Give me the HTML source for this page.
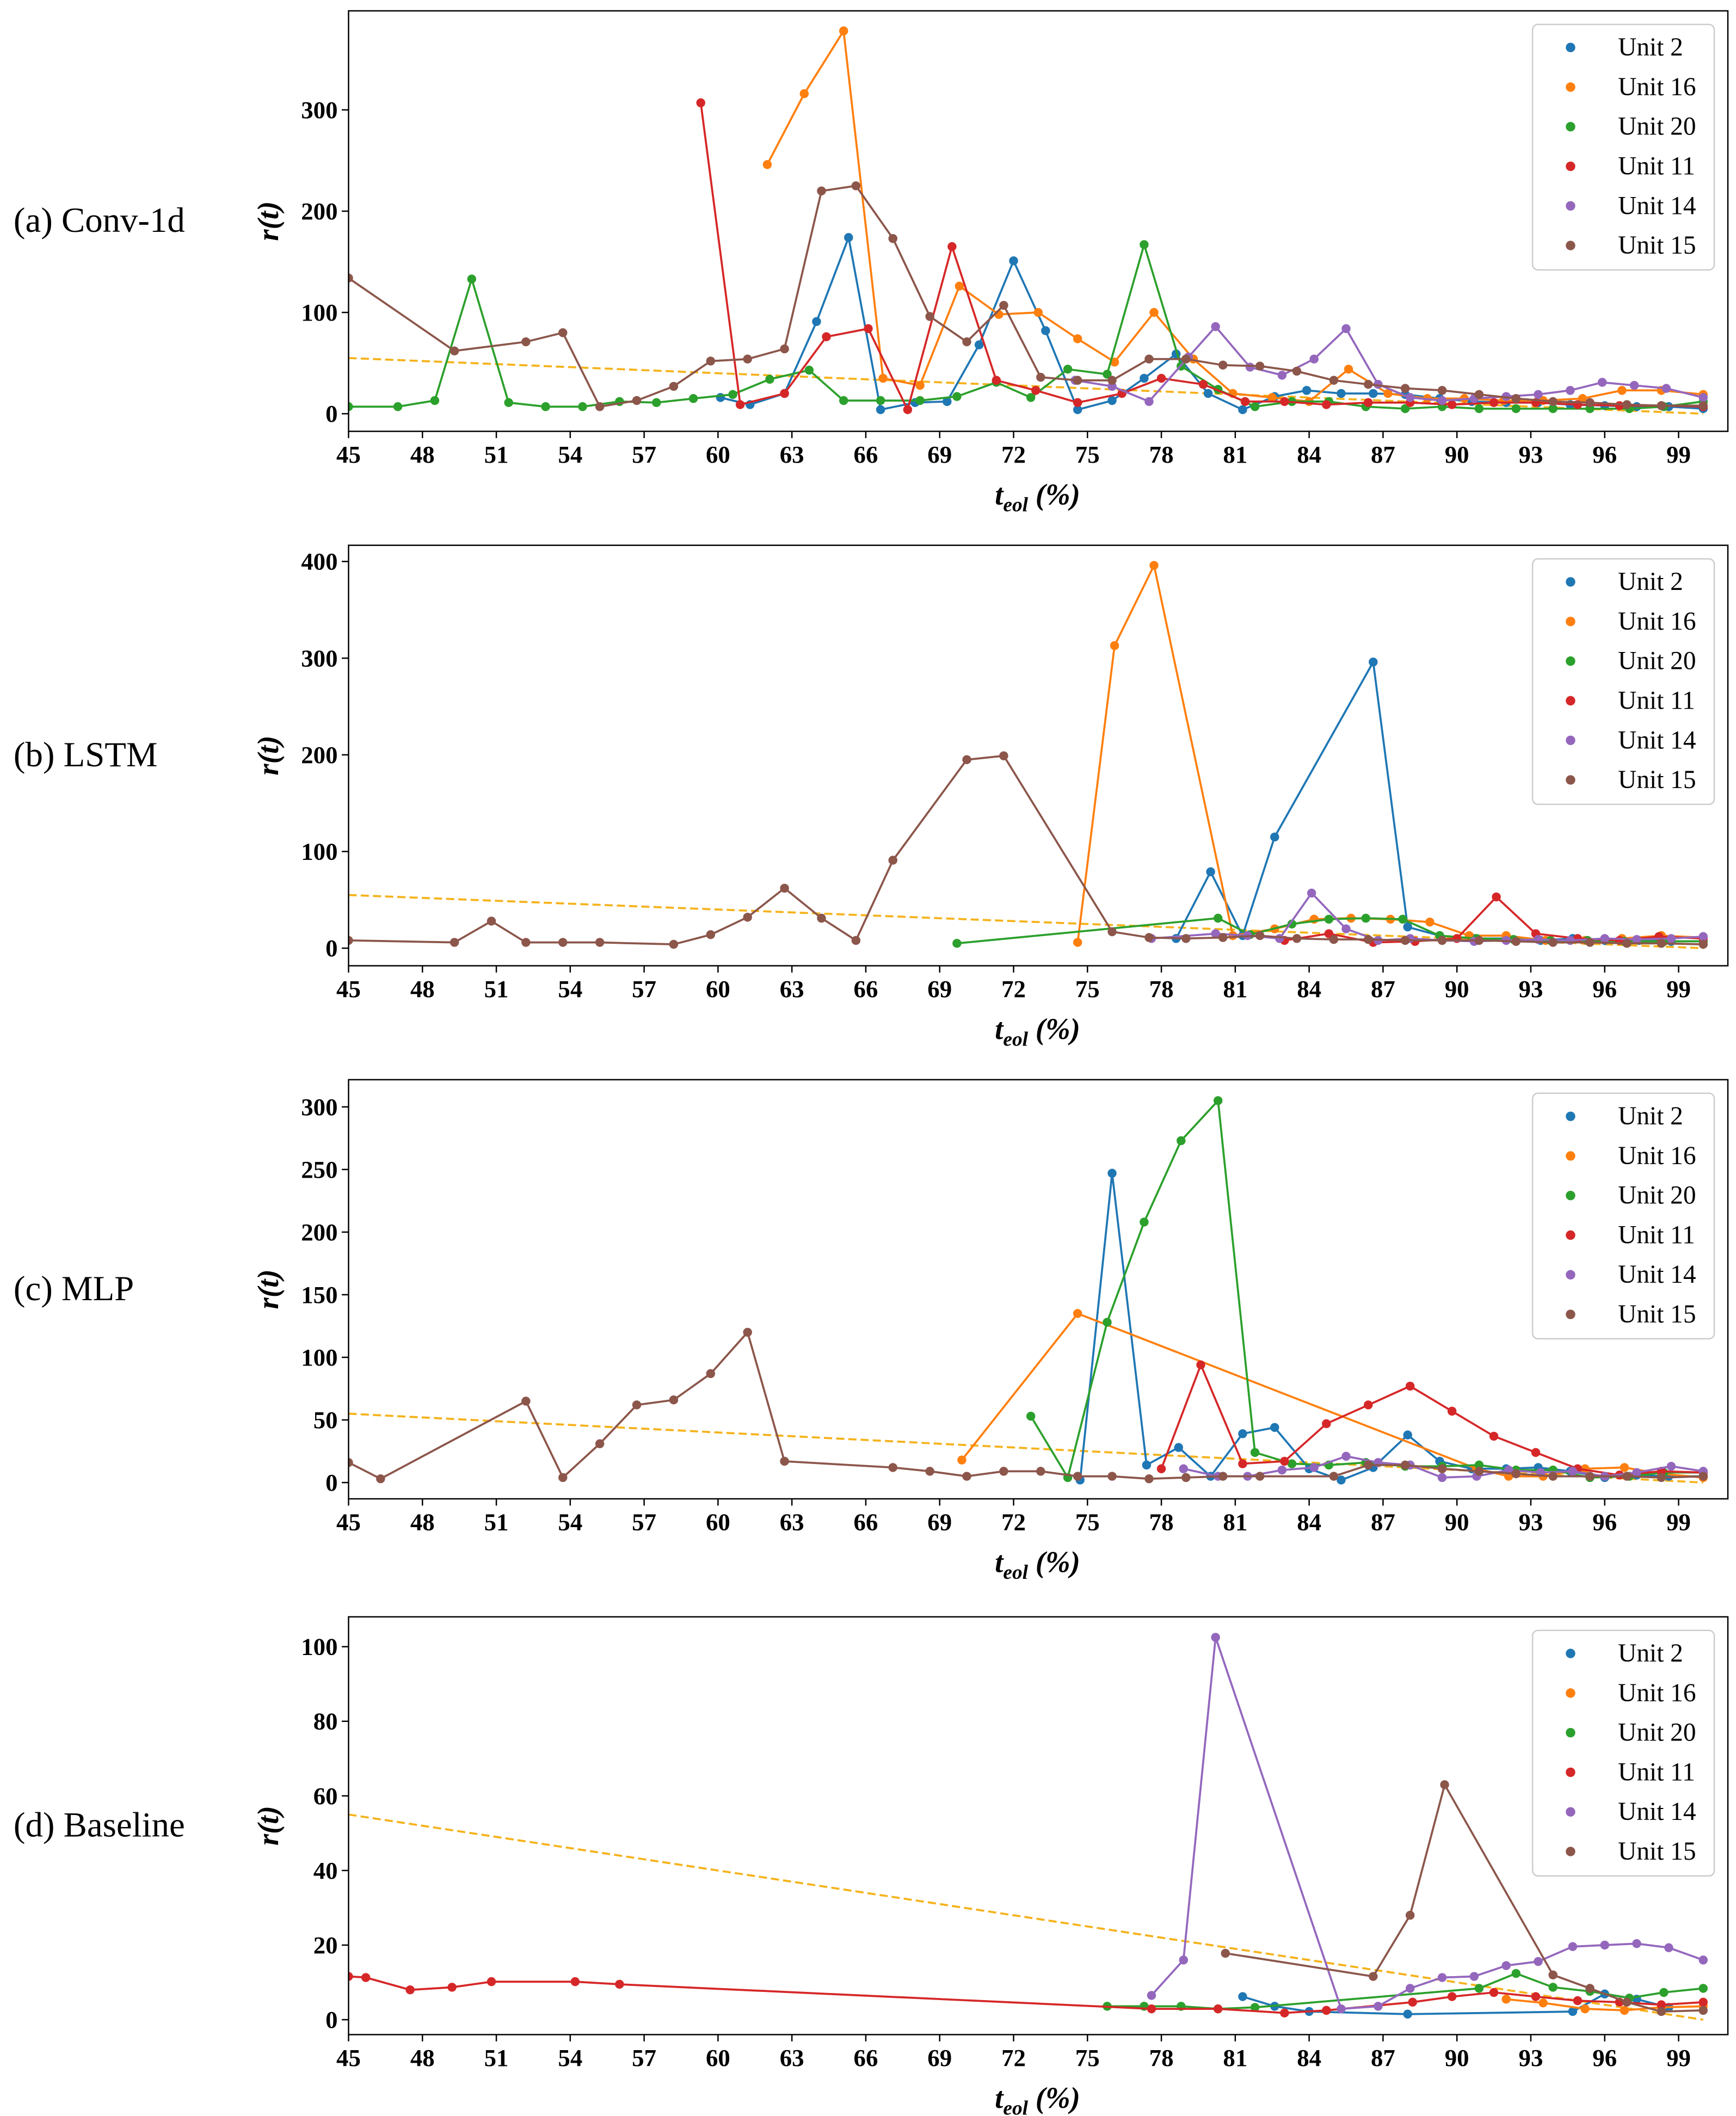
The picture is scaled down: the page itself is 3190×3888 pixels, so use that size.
<!DOCTYPE html>
<html><head><meta charset="utf-8">
<style>
html,body{margin:0;padding:0;background:#fff;}
svg{display:block;}
</style></head>
<body>
<svg id="fig" xmlns="http://www.w3.org/2000/svg" width="3190" height="3888" viewBox="0 0 1280 1560" preserveAspectRatio="none" font-family="'Liberation Serif', serif"></svg>
<script>
// ---------- data ----------
const xTicks = [45,48,51,54,57,60,63,66,69,72,75,78,81,84,87,90,93,96,99];
const unitNames = ["Unit 2","Unit 16","Unit 20","Unit 11","Unit 14","Unit 15"];
const unitColors = ["#1f77b4","#ff7f0e","#2ca02c","#d62728","#9467bd","#8c564b"];

// (a) Conv-1d
const convU2X = [60.1,61.3,62.7,64,65.3,66.6,68,69.3,70.6,72,73.3,74.6,76,77.3,78.6,79.9,81.3,82.6,83.9,85.3,86.6,87.9,89.3,90.6,92,93.3,94.6,96,97.3,98.6,100];
const convU2Y = [16,9,20,91,174,4,11,12,68,151,82,4,13,35,59,20,4,17,23,20,20,19,15,12,11,11,9,8,7,7,5];
const convU16X = [62,63.5,65.1,66.7,68.2,69.8,71.4,73,74.6,76.1,77.7,79.3,80.9,82.5,84,85.6,87.2,88.8,90.3,91.9,93.5,95.1,96.7,98.3,100];
const convU16Y = [246,316,378,35,28,126,98,100,74,51,100,54,20,16,12,44,20,15,15,13,13,15,23,23,19];
const convU20X = [45,47,48.5,50,51.5,53,54.5,56,57.5,59,60.6,62.1,63.7,65.1,66.6,68.2,69.7,71.3,72.7,74.2,75.8,77.3,78.8,80.3,81.8,83.3,84.8,86.3,87.9,89.4,90.9,92.4,93.9,95.4,97,98.4,100];
const convU20Y = [7,7,13,133,11,7,7,12,11,15,19,34,43,13,13,13,17,31,16,44,39,167,47,24,7,12,12,7,5,7,5,5,5,5,5,7,12];
const convU11X = [59.3,60.9,62.7,64.4,66.1,67.7,69.5,71.3,72.9,74.6,76.4,78,79.7,81.4,83,84.7,86.4,88.1,89.8,91.5,93.2,94.9,96.6,98.3,100];
const convU11Y = [307,9,20,76,84,4,165,33,23,11,20,35,29,12,12,9,11,11,9,11,11,9,8,8,7];
const convU14X = [74.5,76,77.5,79.1,80.2,81.6,82.9,84.2,85.5,86.8,88.1,89.4,90.7,92,93.3,94.6,95.9,97.2,98.5,100];
const convU14Y = [33,27,12,56,86,46,38,54,84,29,16,13,15,17,19,23,31,28,25,16];
const convU15X = [45,49.3,52.2,53.7,55.2,56.7,58.2,59.7,61.2,62.7,64.2,65.6,67.1,68.6,70.1,71.6,73.1,74.6,76,77.5,79,80.5,82,83.5,85,86.4,87.9,89.4,90.9,92.4,93.9,95.4,96.9,98.3,100];
const convU15Y = [134,62,71,80,7,13,27,52,54,64,220,225,173,96,71,107,36,33,33,54,54,48,47,42,33,29,25,23,19,15,12,11,9,8,8];

// (b) LSTM
const lstmU2X = [78.6,80,81.3,82.6,86.6,88,89.3,90.7,92,93.4,94.7,96,97.4,98.7,100];
const lstmU2Y = [10,79,13,115,296,22,13,10,10,8,10,8,8,7,7];
const lstmU16X = [74.6,76.1,77.7,80.9,82.6,84.2,85.7,87.3,88.9,90.5,92,93.6,95.2,96.7,98.3,100];
const lstmU16Y = [6,313,396,13,20,30,31,30,27,13,13,8,8,10,13,11];
const lstmU20X = [69.7,80.3,81.6,83.3,84.8,86.3,87.8,89.3,90.8,92.3,93.8,95.3,96.8,98.4,100];
const lstmU20Y = [5,31,14,25,30,31,30,13,10,9,8,8,7,7,7];
const lstmU11X = [83,84.8,86.6,88.3,90,91.6,93.2,94.9,96.6,98.2,100];
const lstmU11Y = [8,15,6,7,10,53,15,10,8,12,10];
const lstmU14X = [77.6,80.2,81.5,82.8,84.1,85.5,86.8,88.1,89.4,90.7,92,93.3,94.6,96,97.3,98.7,100];
const lstmU14Y = [10,15,13,10,57,20,8,10,8,7,8,9,8,10,9,10,12];
const lstmU15X = [45,49.3,50.8,52.2,53.7,55.2,58.2,59.7,61.2,62.7,64.2,65.6,67.1,70.1,71.6,76,77.5,79,80.5,82,83.5,85,86.4,87.9,89.4,90.9,92.4,93.9,95.4,96.9,98.3,100];
const lstmU15Y = [8,6,28,6,6,6,4,14,32,62,31,8,91,195,199,17,11,10,11,13,10,9,9,8,8,8,7,6,6,5,5,4];

// (c) MLP
const mlpU2X = [74.7,76,77.4,78.7,80,81.3,82.6,84,85.3,86.6,88,89.3,90.6,92,93.3,94.6,96,97.3,98.6,100];
const mlpU2Y = [2,247,14,28,5,39,44,11,2,12,38,17,11,11,12,9,4,6,5,5];
const mlpU16X = [69.9,74.6,90.8,92.1,93.5,95.2,96.8,98.3,100];
const mlpU16Y = [18,135,11,5,5,11,12,7,4];
const mlpU20X = [72.7,74.2,75.8,77.3,78.8,80.3,81.8,83.3,84.8,86.3,87.9,89.4,90.9,92.4,93.9,95.4,97,98.4,100];
const mlpU20Y = [53,4,128,208,273,305,24,15,14,16,13,13,14,10,10,4,5,8,8];
const mlpU11X = [78,79.6,81.3,83,84.7,86.4,88.1,89.8,91.5,93.2,94.9,96.6,98.3,100];
const mlpU11Y = [11,94,15,17,47,62,77,57,37,24,11,6,9,8];
const mlpU14X = [78.9,80.3,81.5,82.9,84.2,85.5,86.8,88.1,89.4,90.8,92.1,93.4,94.7,96,97.3,98.7,100];
const mlpU14Y = [11,5,5,10,12,21,16,14,4,5,10,8,9,5,8,13,9];
const mlpU15X = [45,46.3,52.2,53.7,55.2,56.7,58.2,59.7,61.2,62.7,67.1,68.6,70.1,71.6,73.1,74.6,76,77.5,79,80.5,82,85,86.4,87.9,89.4,90.9,92.4,93.9,95.4,96.9,98.3,100];
const mlpU15Y = [16,3,65,4,31,62,66,87,120,17,12,9,5,9,9,5,5,3,4,5,5,5,14,14,11,9,7,5,5,5,4,5];

// (d) Baseline
const baseU2X = [81.3,82.6,84,88,94.7,96,97.3,98.6];
const baseU2Y = [6.2,3.6,2.2,1.5,2.2,6.9,5.5,3.3];
const baseU16X = [92,93.5,95.2,96.8,98.3,100];
const baseU16Y = [5.5,4.5,2.9,2.5,3.3,3.6];
const baseU20X = [75.8,77.3,78.8,80.3,81.8,90.9,92.4,93.9,95.4,97,98.4,100];
const baseU20Y = [3.6,3.6,3.6,2.9,3.3,8.4,12.4,8.7,7.6,5.8,7.3,8.4];
const baseU11X = [45,45.7,47.5,49.2,50.8,54.2,56,77.6,80.3,83,84.7,88.2,89.8,91.5,93.2,94.9,96.6,98.3,100];
const baseU11Y = [11.6,11.3,8,8.7,10.2,10.2,9.5,2.9,2.9,1.8,2.5,4.7,6.2,7.3,6.2,5.1,4.7,4,4.7];
const baseU14X = [77.6,78.9,80.2,85.3,86.8,88.1,89.4,90.7,92,93.3,94.7,96,97.3,98.6,100];
const baseU14Y = [6.5,16,102.5,2.9,3.6,8.4,11.3,11.6,14.5,15.6,19.6,20,20.4,19.3,16];
const baseU15X = [80.6,86.6,88.1,89.5,93.9,95.4,96.9,98.3,100];
const baseU15Y = [17.8,11.6,28,63,12,8.4,4.7,2.2,2.5];

const trendX = [45,100];
const trendY = [55,0];

const panelLabels = ["(a) Conv-1d","(b) LSTM","(c) MLP","(d) Baseline"];
const panelYTicks = [[0,100,200,300],[0,100,200,300,400],[0,50,100,150,200,250,300],[0,20,40,60,80,100]];
const panelYRange = [[-17.4,397.8],[-18.2,416.8],[-13,321.7],[-4,108]];
const panelBox = [[8,318],[402,712],[796,1105],[1192,1500]];
const panelSeries = [
  [[convU2X,convU2Y],[convU16X,convU16Y],[convU20X,convU20Y],[convU11X,convU11Y],[convU14X,convU14Y],[convU15X,convU15Y]],
  [[lstmU2X,lstmU2Y],[lstmU16X,lstmU16Y],[lstmU20X,lstmU20Y],[lstmU11X,lstmU11Y],[lstmU14X,lstmU14Y],[lstmU15X,lstmU15Y]],
  [[mlpU2X,mlpU2Y],[mlpU16X,mlpU16Y],[mlpU20X,mlpU20Y],[mlpU11X,mlpU11Y],[mlpU14X,mlpU14Y],[mlpU15X,mlpU15Y]],
  [[baseU2X,baseU2Y],[baseU16X,baseU16Y],[baseU20X,baseU20Y],[baseU11X,baseU11Y],[baseU14X,baseU14Y],[baseU15X,baseU15Y]]
];
const panelKeys = ["conv-1d","lstm","mlp","baseline"];

// ---------- drawing ----------
const NS = "http://www.w3.org/2000/svg";
const svg = document.getElementById("fig");
const L = 257, R = 1274, XMIN = 45, XMAX = 101;
function mk(tag, attrs, parent){
  const e = document.createElementNS(NS, tag);
  for (const k in attrs) e.setAttribute(k, attrs[k]);
  (parent||svg).appendChild(e);
  return e;
}
const xs = v => L + (v - XMIN) / (XMAX - XMIN) * (R - L);

panelBox.forEach((box, p) => {
  const [T, B] = box;
  const [ymin, ymax] = panelYRange[p];
  const ys = v => B - (v - ymin) / (ymax - ymin) * (B - T);
  const g = mk("g", {});
  
  

  const lab = mk("text", {x: 10, y: (T+B)/2 + 8, "font-size": 26, fill: "#000"}, g);
  lab.textContent = panelLabels[p];
  
  

  const yl = mk("text", {x: 0, y: 0, "font-size": 22, "font-style": "italic", "font-weight": "bold", "text-anchor": "middle", transform: `translate(205,${(T+B)/2}) rotate(-90)`}, g);
  yl.textContent = "r(t)";
  
  

  // plot area clip
  const cid = "clip" + p;
  const cp = mk("clipPath", {id: cid}, g);
  mk("rect", {x: L, y: T, width: R - L, height: B - T}, cp);
  const pg = mk("g", {"clip-path": `url(#${cid})`}, g);

  // trend line
  const tr = mk("line", {x1: xs(trendX[0]), y1: ys(trendY[0]), x2: xs(trendX[1]), y2: ys(trendY[1]), stroke: "#f5b21a", "stroke-width": 1.5, "stroke-dasharray": "6,3"}, pg);
  
  

  panelSeries[p].forEach((s, i) => {
    const [sx, sy] = s;
    const sg = mk("g", {}, pg);
    
    
    const pts = sx.map((x, k) => xs(x).toFixed(1) + "," + ys(sy[k]).toFixed(1)).join(" ");
    mk("polyline", {points: pts, fill: "none", stroke: unitColors[i], "stroke-width": 1.5}, sg);
    sx.forEach((x, k) => {
      const c = mk("circle", {cx: xs(x), cy: ys(sy[k]), r: 3.3, fill: unitColors[i]}, sg);
      
      
    });
  });

  // frame
  const fr = mk("rect", {x: L, y: T, width: R - L, height: B - T, fill: "none", stroke: "#000", "stroke-width": 1}, g);
  
  

  // x ticks
  xTicks.forEach(t => {
    mk("line", {x1: xs(t), y1: B, x2: xs(t), y2: B + 5, stroke: "#000", "stroke-width": 1}, g);
    const tl = mk("text", {x: xs(t), y: B + 23, "font-size": 18, "font-weight": "bold", "text-anchor": "middle"}, g);
    tl.textContent = t;
    
    
  });
  // y ticks
  panelYTicks[p].forEach(t => {
    mk("line", {x1: L - 5, y1: ys(t), x2: L, y2: ys(t), stroke: "#000", "stroke-width": 1}, g);
    const tl = mk("text", {x: L - 8, y: ys(t) + 6, "font-size": 18, "font-weight": "bold", "text-anchor": "end"}, g);
    tl.textContent = t;
    
    
  });
  // x title
  const xt = mk("text", {x: 765, y: B + 54, "font-size": 22, "font-style": "italic", "font-weight": "bold", "text-anchor": "middle"}, g);
  xt.innerHTML = 't<tspan font-size="15" dy="5">eol</tspan><tspan dy="-5"> (%)</tspan>';
  
  

  // legend
  const lg = mk("g", {}, g);
  
  
  mk("rect", {x: 1130, y: T + 10, width: 134, height: 181, rx: 4, fill: "#fff", "fill-opacity": 0.85, stroke: "#ccc", "stroke-width": 1}, lg);
  unitNames.forEach((n, i) => {
    const cy = T + 27 + i * 29.2;
    const eg = mk("g", {}, lg);
    
    
    mk("circle", {cx: 1158, cy: cy, r: 3.5, fill: unitColors[i]}, eg);
    const tx = mk("text", {x: 1193, y: cy + 6, "font-size": 19}, eg);
    tx.textContent = n;
  });
});
</script>
</body></html>
